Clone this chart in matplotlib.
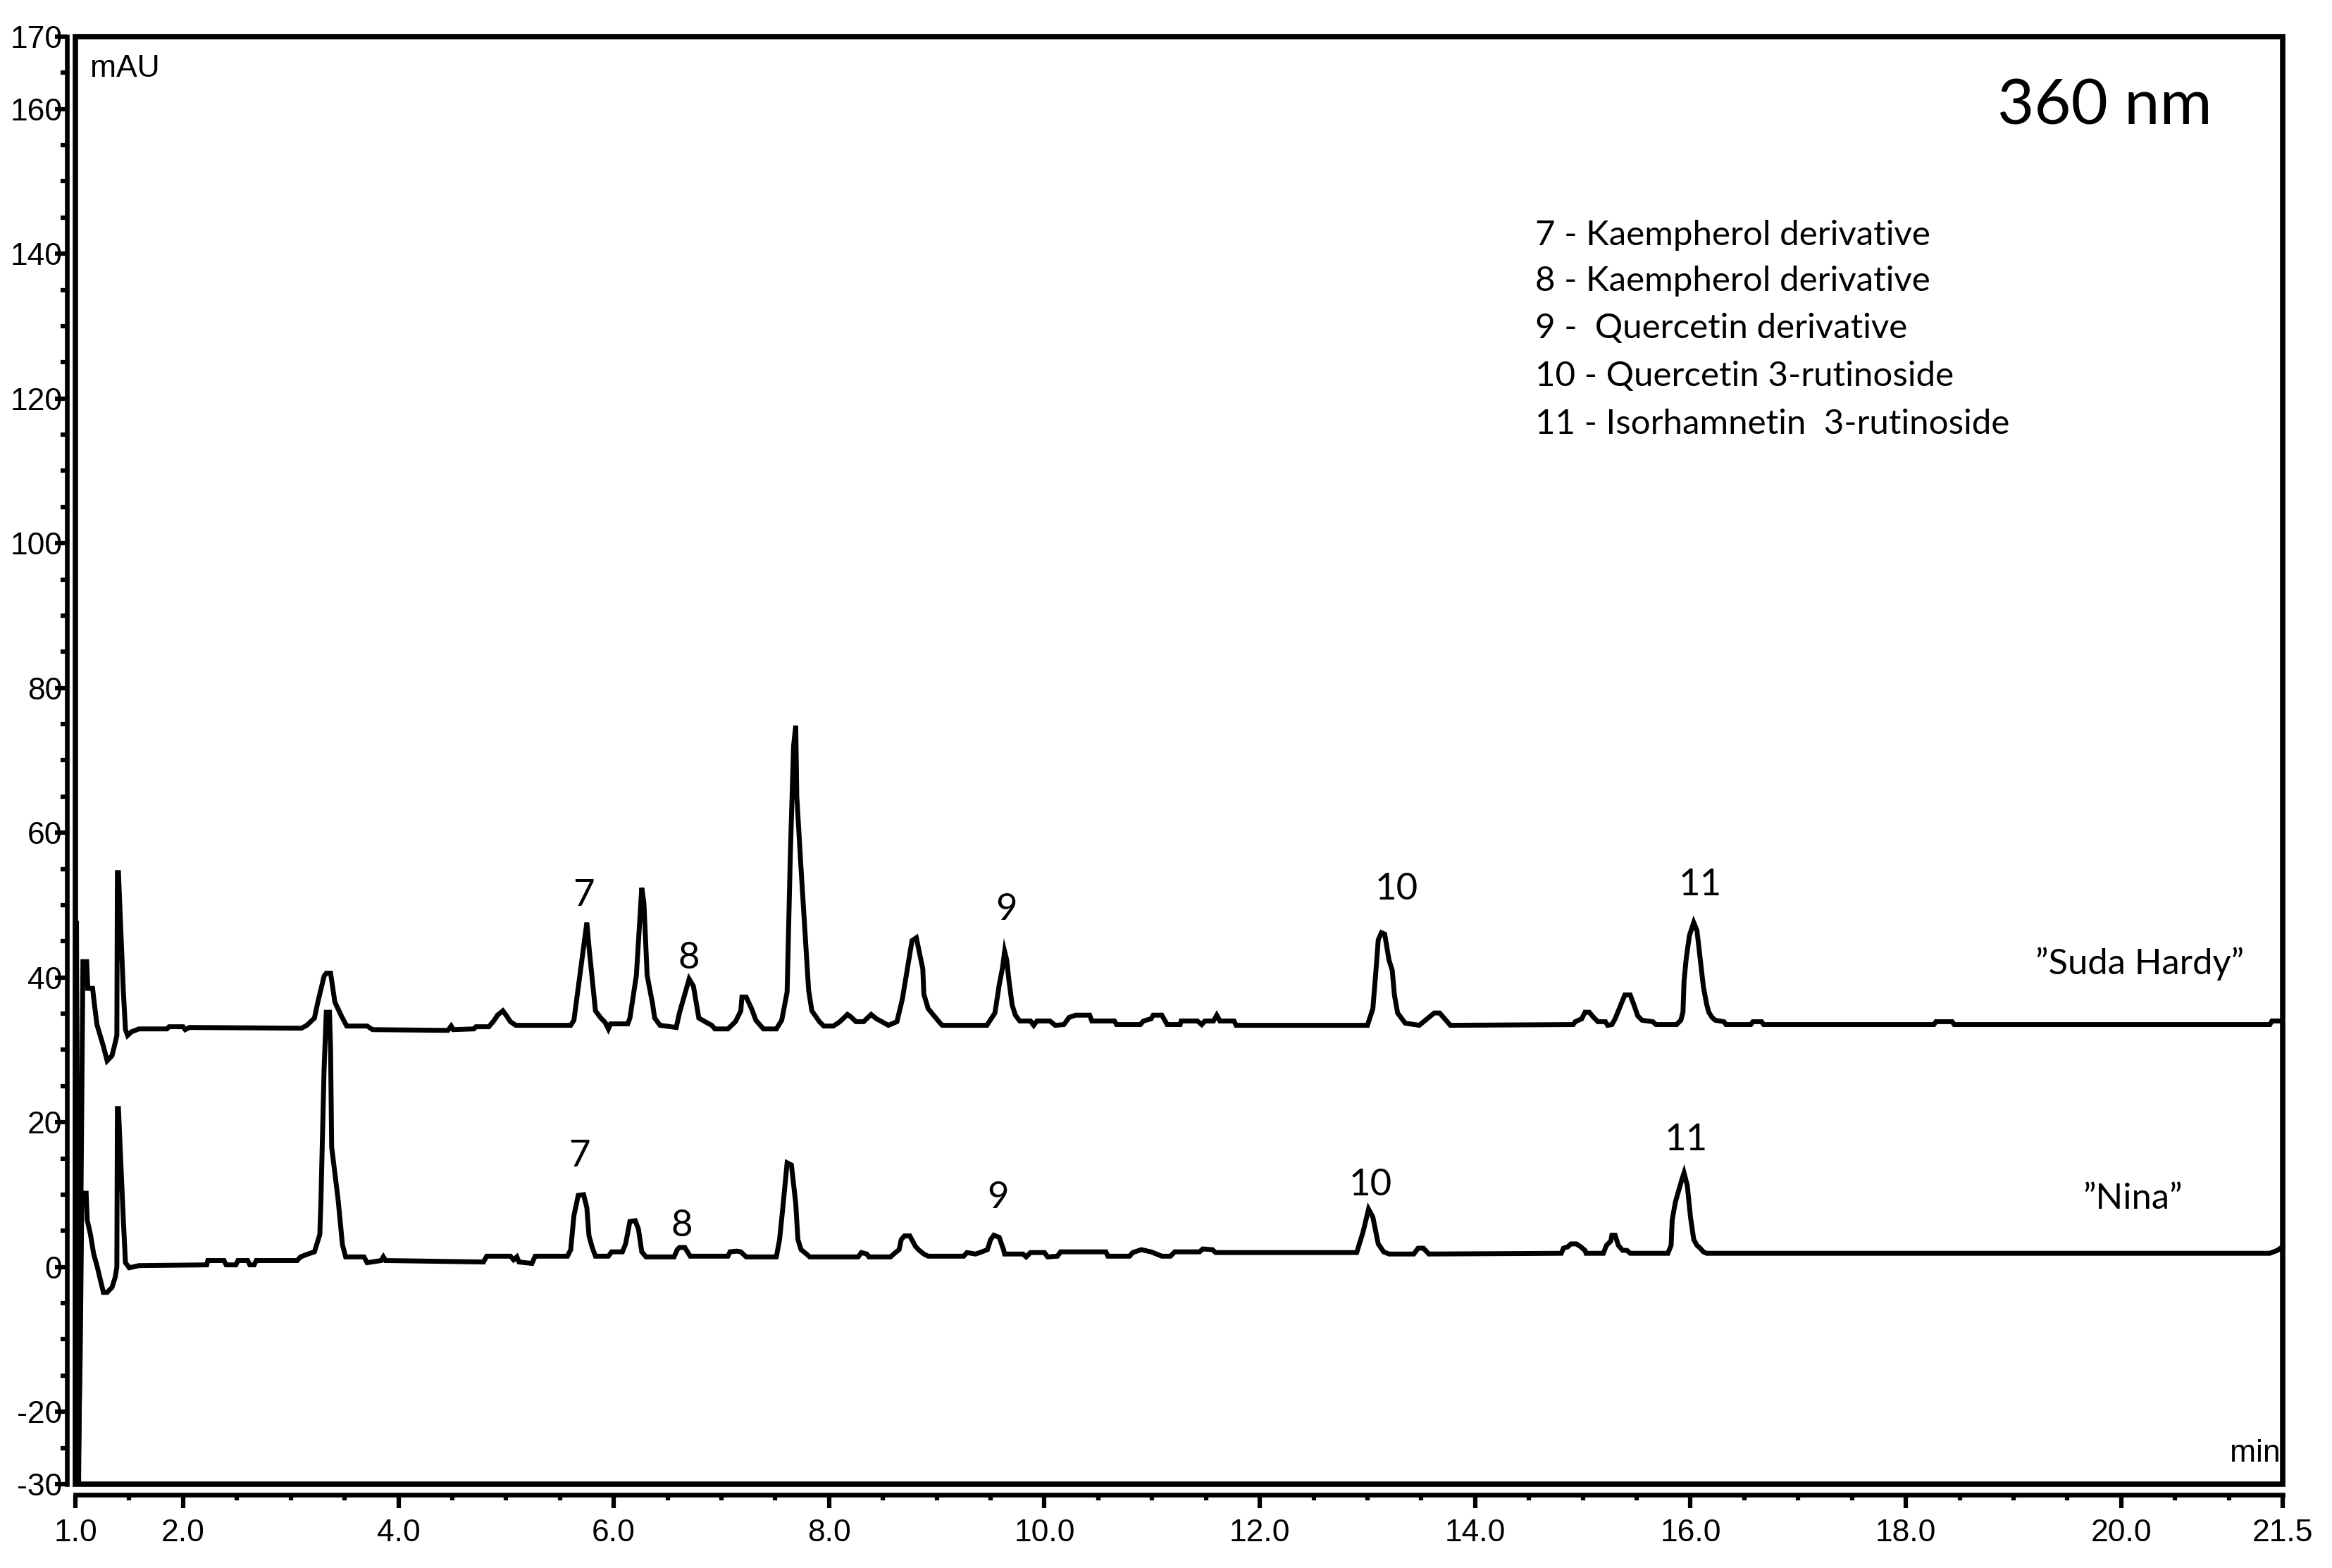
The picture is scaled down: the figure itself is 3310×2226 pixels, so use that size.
import matplotlib
matplotlib.use("Agg")
import matplotlib.pyplot as plt
from matplotlib.patches import Rectangle

# retention time (min) and absorbance (mAU)
suda_time = [1.000, 1.010, 1.030, 1.070, 1.105, 1.115, 1.160, 1.175, 1.200, 1.220,
             1.260, 1.295, 1.340, 1.370, 1.385, 1.390, 1.400, 1.445, 1.465, 1.485,
             1.520, 1.590, 1.850, 1.870, 2.000, 2.020, 2.060, 3.100, 3.150, 3.220,
             3.250, 3.310, 3.330, 3.370, 3.410, 3.470, 3.520, 3.710, 3.760, 4.460,
             4.490, 4.510, 4.700, 4.720, 4.840, 4.890, 4.920, 4.970, 5.000, 5.040,
             5.090, 5.600, 5.630, 5.670, 5.750, 5.770, 5.830, 5.880, 5.920, 5.950,
             5.970, 6.130, 6.150, 6.210, 6.260, 6.280, 6.310, 6.360, 6.380, 6.430,
             6.580, 6.610, 6.700, 6.740, 6.790, 6.860, 6.910, 6.940, 7.060, 7.130,
             7.180, 7.190, 7.230, 7.280, 7.320, 7.390, 7.510, 7.560, 7.610, 7.640,
             7.670, 7.690, 7.700, 7.740, 7.810, 7.840, 7.910, 7.950, 8.040, 8.100,
             8.170, 8.200, 8.250, 8.320, 8.390, 8.440, 8.490, 8.550, 8.630, 8.680,
             8.770, 8.810, 8.870, 8.880, 8.920, 8.970, 9.020, 9.050, 9.465, 9.500,
             9.540, 9.580, 9.610, 9.630, 9.650, 9.670, 9.700, 9.730, 9.770, 9.870,
             9.900, 9.930, 10.050, 10.100, 10.180, 10.230, 10.290, 10.420, 10.440, 10.650,
             10.670, 10.890, 10.920, 10.990, 11.010, 11.090, 11.140, 11.260, 11.270, 11.420,
             11.460, 11.490, 11.570, 11.600, 11.630, 11.760, 11.780, 13.000, 13.050, 13.080,
             13.100, 13.130, 13.160, 13.200, 13.230, 13.250, 13.280, 13.350, 13.480, 13.530,
             13.620, 13.670, 13.770, 14.910, 14.930, 14.990, 15.020, 15.060, 15.100, 15.140,
             15.210, 15.230, 15.270, 15.300, 15.330, 15.360, 15.390, 15.440, 15.480, 15.510,
             15.550, 15.650, 15.680, 15.870, 15.910, 15.930, 15.940, 15.960, 15.990, 16.030,
             16.060, 16.090, 16.120, 16.150, 16.170, 16.200, 16.230, 16.310, 16.330, 16.560,
             16.580, 16.660, 16.680, 18.260, 18.280, 18.430, 18.450, 21.380, 21.400, 21.500]
suda_mau = [33.0, 47.8, -30.0, 42.2, 42.2, 38.5, 38.5, 36.5, 33.5, 32.5,
            30.5, 28.5, 29.2, 31.0, 32.0, 54.5, 54.5, 38.2, 32.8, 32.0,
            32.5, 32.9, 32.9, 33.2, 33.2, 32.8, 33.1, 33.0, 33.4, 34.4,
            36.5, 40.2, 40.6, 40.6, 36.6, 34.7, 33.3, 33.3, 32.8, 32.7,
            33.3, 32.8, 32.9, 33.2, 33.2, 34.1, 34.8, 35.4, 34.8, 33.9,
            33.4, 33.4, 34.1, 38.6, 47.6, 44.2, 35.4, 34.4, 33.8, 32.9,
            33.6, 33.6, 34.4, 40.3, 52.4, 50.3, 40.3, 36.4, 34.4, 33.4,
            33.1, 35.1, 39.8, 38.8, 34.4, 33.8, 33.4, 32.9, 32.9, 33.9,
            35.4, 37.3, 37.3, 35.7, 34.1, 32.9, 32.9, 34.1, 38.0, 57.0,
            72.0, 74.8, 65.0, 54.9, 38.2, 35.4, 33.9, 33.3, 33.3, 33.9,
            34.9, 34.6, 33.9, 33.9, 34.9, 34.3, 33.9, 33.4, 33.9, 37.0,
            45.1, 45.5, 41.2, 37.7, 35.7, 34.8, 33.9, 33.4, 33.4, 34.2,
            35.1, 39.0, 41.3, 43.6, 42.4, 39.6, 36.2, 34.8, 34.0, 34.0,
            33.4, 34.0, 34.0, 33.4, 33.5, 34.5, 34.8, 34.8, 34.0, 34.0,
            33.5, 33.5, 34.0, 34.3, 34.8, 34.8, 33.5, 33.5, 34.0, 34.0,
            33.5, 34.0, 34.0, 34.8, 34.0, 34.0, 33.4, 33.4, 35.7, 41.2,
            45.2, 46.2, 46.0, 42.4, 41.0, 37.6, 35.1, 33.7, 33.4, 34.0,
            35.1, 35.1, 33.4, 33.5, 33.9, 34.3, 35.2, 35.2, 34.5, 33.9,
            33.9, 33.4, 33.5, 34.3, 35.4, 36.5, 37.6, 37.6, 36.0, 34.7,
            34.1, 33.9, 33.5, 33.5, 34.1, 35.2, 39.5, 42.6, 45.8, 47.6,
            46.5, 42.6, 38.7, 36.3, 35.2, 34.5, 34.1, 33.9, 33.5, 33.5,
            33.9, 33.9, 33.5, 33.5, 33.9, 33.9, 33.5, 33.5, 34.0, 34.0]

nina_time = [1.000, 1.012, 1.025, 1.045, 1.060, 1.100, 1.110, 1.140, 1.170, 1.200,
             1.260, 1.295, 1.340, 1.370, 1.385, 1.390, 1.400, 1.445, 1.465, 1.500,
             1.590, 2.220, 2.230, 2.380, 2.400, 2.490, 2.510, 2.600, 2.620, 2.660,
             2.680, 3.060, 3.090, 3.160, 3.220, 3.270, 3.280, 3.310, 3.330, 3.360,
             3.370, 3.380, 3.440, 3.480, 3.510, 3.680, 3.710, 3.840, 3.860, 3.880,
             4.790, 4.820, 5.040, 5.070, 5.100, 5.120, 5.240, 5.270, 5.570, 5.600,
             5.630, 5.670, 5.720, 5.750, 5.770, 5.800, 5.830, 5.950, 5.980, 6.080,
             6.110, 6.150, 6.200, 6.230, 6.260, 6.300, 6.560, 6.590, 6.610, 6.660,
             6.710, 7.060, 7.080, 7.140, 7.180, 7.230, 7.510, 7.540, 7.570, 7.610,
             7.650, 7.690, 7.710, 7.740, 7.790, 7.820, 8.270, 8.300, 8.350, 8.370,
             8.570, 8.600, 8.650, 8.670, 8.700, 8.750, 8.800, 8.830, 8.880, 8.920,
             9.250, 9.280, 9.360, 9.400, 9.470, 9.500, 9.530, 9.580, 9.620, 9.630,
             9.800, 9.830, 9.870, 10.000, 10.030, 10.120, 10.150, 10.570, 10.590, 10.790,
             10.820, 10.900, 10.990, 11.090, 11.170, 11.210, 11.440, 11.470, 11.560, 11.590,
             12.900, 12.960, 13.010, 13.050, 13.100, 13.150, 13.200, 13.430, 13.470, 13.520,
             13.570, 14.800, 14.820, 14.860, 14.890, 14.940, 14.980, 15.020, 15.030, 15.190,
             15.220, 15.240, 15.260, 15.270, 15.300, 15.330, 15.370, 15.410, 15.440, 15.790,
             15.820, 15.830, 15.860, 15.920, 15.940, 15.970, 16.000, 16.030, 16.060, 16.090,
             16.120, 16.150, 21.380, 21.450, 21.500]
nina_mau = [2.0, 20.0, -30.0, -12.0, 10.2, 10.2, 6.5, 4.5, 1.8, 0.2,
            -3.5, -3.5, -2.8, -1.4, 0.0, 21.9, 21.9, 6.6, 0.6, -0.1,
            0.2, 0.3, 0.9, 0.9, 0.3, 0.3, 0.9, 0.9, 0.3, 0.3,
            0.9, 0.9, 1.4, 1.8, 2.1, 4.5, 9.0, 27.5, 35.2, 35.2,
            30.0, 16.6, 9.3, 3.1, 1.4, 1.4, 0.6, 0.9, 1.4, 0.9,
            0.7, 1.5, 1.5, 1.0, 1.4, 0.7, 0.5, 1.5, 1.5, 2.4,
            7.1, 9.9, 10.0, 8.2, 4.3, 2.7, 1.5, 1.5, 2.1, 2.1,
            3.2, 6.3, 6.4, 5.2, 2.1, 1.4, 1.4, 2.4, 2.7, 2.7,
            1.5, 1.5, 2.1, 2.2, 2.1, 1.4, 1.4, 3.8, 8.2, 14.4,
            14.1, 8.8, 3.8, 2.4, 1.8, 1.4, 1.4, 2.0, 1.8, 1.4,
            1.4, 1.8, 2.4, 3.8, 4.3, 4.3, 2.9, 2.4, 1.8, 1.5,
            1.5, 2.0, 1.8, 2.0, 2.4, 3.8, 4.4, 4.1, 2.4, 1.8,
            1.8, 1.4, 2.0, 2.0, 1.4, 1.5, 2.1, 2.1, 1.5, 1.5,
            2.0, 2.4, 2.1, 1.5, 1.5, 2.1, 2.1, 2.5, 2.4, 2.0,
            2.0, 4.9, 8.0, 6.9, 3.2, 2.1, 1.8, 1.8, 2.6, 2.6,
            1.8, 1.9, 2.6, 2.8, 3.2, 3.2, 2.8, 2.3, 1.9, 1.9,
            3.0, 3.3, 3.6, 4.4, 4.4, 3.0, 2.3, 2.3, 1.9, 1.9,
            3.0, 6.5, 9.0, 12.1, 13.0, 11.3, 6.9, 3.8, 3.0, 2.6,
            2.1, 1.9, 1.9, 2.3, 2.8]

# peak numbers: (label, time, mAU) for each sample
suda_peaks = ["7", "8", "9", "10", "11"]
suda_peak_t = [5.72, 6.70, 9.65, 13.27, 16.09]
suda_peak_y = [51.3, 42.7, 49.4, 52.2, 52.8]
nina_peaks = ["7", "8", "9", "10", "11"]
nina_peak_t = [5.68, 6.63, 9.57, 13.03, 15.96]
nina_peak_y = [15.3, 5.7, 9.6, 11.3, 17.5]

legend_lines = ["7 - Kaempherol derivative",
                "8 - Kaempherol derivative",
                "9 -  Quercetin derivative",
                "10 - Quercetin 3-rutinoside",
                "11 - Isorhamnetin  3-rutinoside"]
legend_y = [142.6, 136.2, 129.7, 123.1, 116.5]

x_major = [1.0, 2.0, 4.0, 6.0, 8.0, 10.0, 12.0, 14.0, 16.0, 18.0, 20.0, 21.5]
x_labels = ["1.0", "2.0", "4.0", "6.0", "8.0", "10.0", "12.0", "14.0", "16.0",
            "18.0", "20.0", "21.5"]
y_major = [170, 160, 140, 120, 100, 80, 60, 40, 20, 0, -20, -30]
y_labels = ["170", "160", "140", "120", "100", "80", "60", "40", "20", "0", "-20", "-30"]

tick_font = "Liberation Sans"
note_font = "Lato"

fig = plt.figure(figsize=(33.1, 22.26), dpi=100)
ax = fig.add_axes([0.03233, 0.05346, 0.94653, 0.92318])

ax.plot(suda_time, suda_mau, color="black", lw=5, solid_joinstyle="miter")
ax.plot(nina_time, nina_mau, color="black", lw=5, solid_joinstyle="miter")

ax.set_xlim(1.0, 21.5)
ax.set_ylim(-30, 170)

# chemstation style: axis lines sit just outside a closed frame
ax.spines["top"].set_visible(False)
ax.spines["right"].set_visible(False)
ax.spines["left"].set_position(("outward", 8.5))
ax.spines["bottom"].set_position(("outward", 11.0))
ax.spines["left"].set_linewidth(4.8)
ax.spines["bottom"].set_linewidth(4.8)
ax.add_patch(Rectangle((0, 0), 1, 1, transform=ax.transAxes, fill=False,
                       lw=5.5, ec="black", clip_on=False, zorder=5))

ax.set_xticks(x_major)
ax.set_xticklabels(x_labels, fontfamily=tick_font, fontsize=32)
ax.set_xticks([1.0 + 0.5 * i for i in range(42)], minor=True)
ax.set_yticks(y_major)
ax.set_yticklabels(y_labels, fontfamily=tick_font, fontsize=32)
ax.set_yticks([-30 + 5 * i for i in range(41)], minor=True)

ax.tick_params(axis="x", which="major", length=14, width=4.5, pad=10)
ax.tick_params(axis="x", which="minor", length=6, width=4.5)
ax.tick_params(axis="y", which="major", length=12, width=4.5, pad=-7)
ax.tick_params(axis="y", which="minor", length=6.5, width=4.5)

ax.text(1.137, 164.5, "mAU", fontfamily=tick_font, fontsize=32, ha="left", va="baseline")
ax.text(21.48, -26.9, "min", fontfamily=tick_font, fontsize=32, ha="right", va="baseline")

ax.text(19.85, 160.3, "360 nm", fontfamily=note_font, fontsize=65, ha="center", va="center")
for line, y in zip(legend_lines, legend_y):
    ax.text(14.56, y, line, fontfamily=note_font, fontsize=35.5, ha="left", va="center")

ax.text(20.17, 41.9, "\u201dSuda Hardy\u201d", fontfamily=note_font, fontsize=36.5,
        ha="center", va="center")
ax.text(20.11, 9.4, "\u201dNina\u201d", fontfamily=note_font, fontsize=36.5,
        ha="center", va="center")

for lab, t, y in zip(suda_peaks, suda_peak_t, suda_peak_y):
    ax.text(t, y, lab, fontfamily=note_font, fontsize=38, ha="center", va="center")
for lab, t, y in zip(nina_peaks, nina_peak_t, nina_peak_y):
    ax.text(t, y, lab, fontfamily=note_font, fontsize=38, ha="center", va="center")

fig.savefig("out.png", dpi=100)
